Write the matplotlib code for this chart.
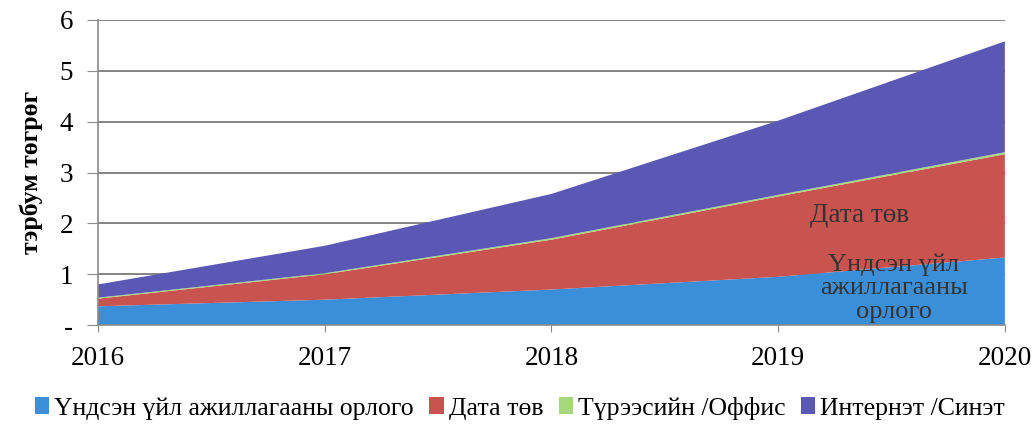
import matplotlib.pyplot as plt
from matplotlib.patches import Patch

plt.rcParams['font.family'] = ['Liberation Serif', 'DejaVu Serif']

years = [2016, 2017, 2018, 2019, 2020]
labels = ['Үндсэн үйл ажиллагааны орлого', 'Дата төв', 'Түрээсийн /Оффис', 'Интернэт /Синэт']
main_income = [0.37, 0.50, 0.70, 0.95, 1.33]
data_center = [0.15, 0.50, 0.98, 1.58, 2.03]
rent_office = [0.02, 0.02, 0.03, 0.03, 0.04]
internet = [0.26, 0.54, 0.87, 1.46, 2.18]
colors = ['#3a8fd8', '#c9534f', '#a6d97e', '#5b58b5']

fig = plt.figure(figsize=(10.34, 4.25), dpi=100)
ax = fig.add_axes([0.0948, 0.235, 0.877, 0.718])

ax.stackplot(years, main_income, data_center, rent_office, internet,
             colors=colors, linewidth=0)

ax.set_xlim(2016, 2020)
ax.set_ylim(0, 6)
ax.set_yticks(range(7))
ax.set_yticklabels(['-', '1', '2', '3', '4', '5', '6'])
ax.set_xticks(years)
ax.grid(axis='y', color='#7a7a7a', linewidth=1.3)
ax.set_axisbelow(True)
for s in ['top', 'right']:
    ax.spines[s].set_visible(False)
for s in ['left', 'bottom']:
    ax.spines[s].set_color('#8a8a8a')
    ax.spines[s].set_linewidth(1.2)
ax.tick_params(axis='y', length=8, color='#8a8a8a', labelsize=19.5, pad=10)
ax.tick_params(axis='x', length=5, color='#8a8a8a', labelsize=19.5, pad=10)
ax.set_ylabel('тэрбум төгрөг', fontsize=18.5, fontweight='bold', labelpad=12)

ax.text(2019.36, 2.15, 'Дата төв', fontsize=19.5, color='#333333', ha='center', va='center')
ax.text(2019.51, 0.73, 'Үндсэн үйл\nажиллагааны\nорлого', fontsize=19, color='#333333',
        ha='center', va='center', linespacing=1.1)

handles = [Patch(facecolor=c, edgecolor='none') for c in colors]
fig.legend(handles, labels, loc='center', bbox_to_anchor=(0.503, 0.04), ncol=4,
           frameon=False, fontsize=18.5, handlelength=0.55, handleheight=0.6,
           handletextpad=0.2, columnspacing=0.6)

fig.savefig('out.png', dpi=100)
